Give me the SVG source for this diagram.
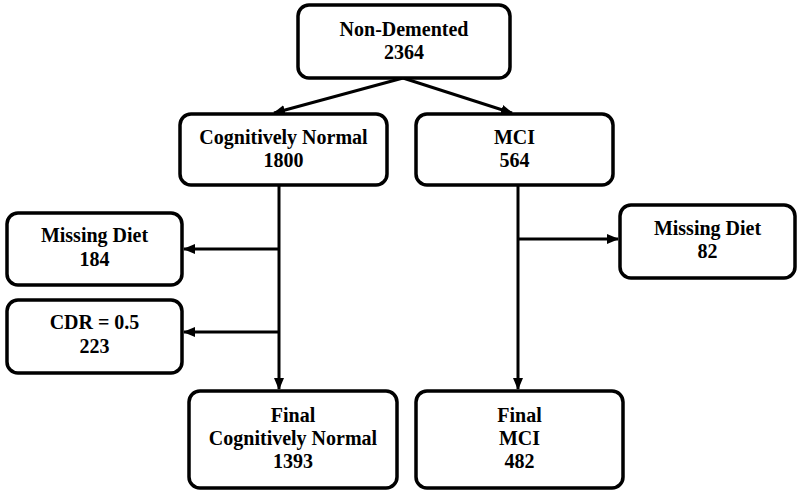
<svg xmlns="http://www.w3.org/2000/svg" width="800" height="496" viewBox="0 0 800 496">
<style>
.box{fill:#fff;stroke:#000;stroke-width:3.5}
.t{font-family:"Liberation Serif","Times New Roman",serif;font-weight:bold;font-size:20px;fill:#000;text-anchor:middle}
.c{fill:none;stroke:#000;stroke-width:3}
</style>
<defs>
<marker id="ah" markerUnits="userSpaceOnUse" markerWidth="12" markerHeight="12" viewBox="0 0 12 12" refX="11" refY="6" orient="auto">
<path d="M0,1 L12,6 L0,11 Z" fill="#000"/>
</marker>
</defs>
<rect width="800" height="496" fill="#fff"/>
<g id="connectors">
<line class="c" x1="403" y1="78" x2="274" y2="113" marker-end="url(#ah)"/>
<line class="c" x1="403" y1="78" x2="512" y2="113" marker-end="url(#ah)"/>
<line class="c" x1="279" y1="185" x2="279" y2="389" marker-end="url(#ah)"/>
<line class="c" x1="279" y1="249" x2="184" y2="249" marker-end="url(#ah)"/>
<line class="c" x1="279" y1="332" x2="184" y2="332" marker-end="url(#ah)"/>
<line class="c" x1="518" y1="185" x2="518" y2="389" marker-end="url(#ah)"/>
<line class="c" x1="518" y1="239" x2="618" y2="239" marker-end="url(#ah)"/>
</g>
<g id="non-demented">
<rect class="box" x="298" y="5" width="212" height="73" rx="11"/>
<text class="t" x="404" y="36">Non-Demented</text>
<text class="t" x="404" y="59">2364</text>
</g>
<g id="cognitively-normal">
<rect class="box" x="180" y="114" width="207" height="71" rx="11"/>
<text class="t" x="283.5" y="144">Cognitively Normal</text>
<text class="t" x="283.5" y="167">1800</text>
</g>
<g id="mci">
<rect class="box" x="416" y="114" width="197" height="71" rx="11"/>
<text class="t" x="514.5" y="144">MCI</text>
<text class="t" x="514.5" y="167">564</text>
</g>
<g id="missing-diet-cn">
<rect class="box" x="7" y="213" width="175" height="72" rx="11"/>
<text class="t" x="94.5" y="242">Missing Diet</text>
<text class="t" x="94.5" y="266">184</text>
</g>
<g id="cdr">
<rect class="box" x="7" y="300" width="175" height="73" rx="11"/>
<text class="t" x="94.5" y="329">CDR = 0.5</text>
<text class="t" x="94.5" y="353">223</text>
</g>
<g id="missing-diet-mci">
<rect class="box" x="620" y="205" width="175" height="73" rx="11"/>
<text class="t" x="707.5" y="235">Missing Diet</text>
<text class="t" x="707.5" y="258">82</text>
</g>
<g id="final-cn">
<rect class="box" x="189" y="391" width="208" height="97" rx="11"/>
<text class="t" x="293" y="422">Final</text>
<text class="t" x="293" y="445">Cognitively Normal</text>
<text class="t" x="293" y="468">1393</text>
</g>
<g id="final-mci">
<rect class="box" x="416" y="391" width="207" height="97" rx="11"/>
<text class="t" x="519.5" y="422">Final</text>
<text class="t" x="519.5" y="445">MCI</text>
<text class="t" x="519.5" y="468">482</text>
</g>
</svg>
